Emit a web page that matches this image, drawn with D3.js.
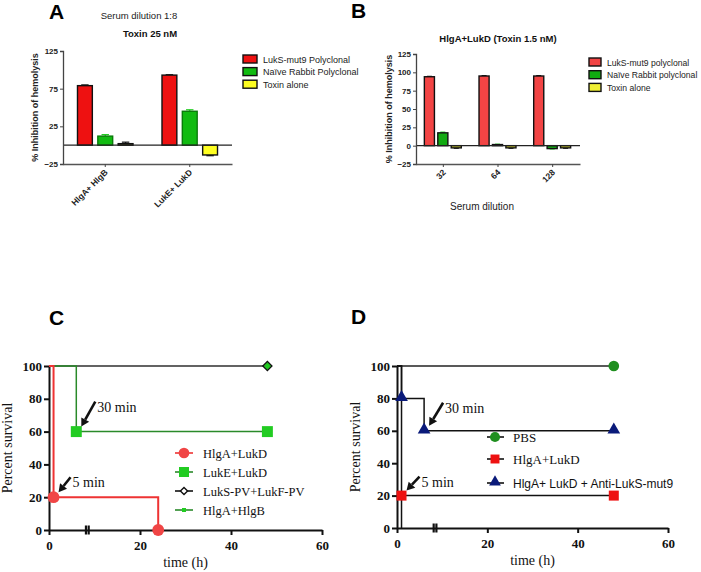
<!DOCTYPE html>
<html><head><meta charset="utf-8">
<script src="https://cdn.jsdelivr.net/npm/d3@7"></script>
<style>body{margin:0;background:#fff}svg{display:block}</style>
</head><body>
<script>
// ---------- DATA ----------
// Panel A
const aCategories = ["HlgA+ HlgB", "LukE+ LukD"];
const aSeries = ["LukS-mut9 Polyclonal", "Naïve Rabbit Polyclonal", "Toxin alone"];
const aValues = [[79, 12, 2], [93, 45, -13]];
const aErrors = [[1, 2, 2], [0.5, 2, 1]];
const aTicks = [-25, 25, 75, 125];
// Panel B
const bCategories = ["32", "64", "128"];
const bSeries = ["LukS-mut9 polyclonal", "Naïve Rabbit polyclonal", "Toxin alone"];
const bValues = [[94, 17.5, -3], [95, 1.5, -3], [95, -4, -3]];
const bErrors = [[0.5, 1, 0.5], [0.5, 0.5, 0.5], [0.5, 0.5, 0.5]];
const bTicks = [-25, 0, 25, 50, 75, 100, 125];
// Panel C survival (time h, percent)
const cHlgALukD = [[0, 100], [1, 20], [24, 0]];
const cHlgALukDMarks = [[1, 20], [24, 0]];
const cLukELukD = [[0, 100], [6, 60], [48, 60]];
const cLukELukDMarks = [[6, 60], [48, 60]];
const cLukSPV = [[0, 100], [48, 100]];
const cHlgAHlgB = [[0, 100], [48, 100]];
const cLegend = ["HlgA+LukD", "LukE+LukD", "LukS-PV+LukF-PV", "HlgA+HlgB"];
// Panel D survival
const dPBS = [[0, 100], [48, 100]];
const dPBSMarks = [[48, 100]];
const dHlgALukD = [[0, 100], [1, 20], [48, 20]];
const dHlgALukDMarks = [[1, 20], [48, 20]];
const dAnti = [[0, 100], [1, 80], [6, 60], [48, 60]];
const dAntiMarks = [[1, 80], [6, 60], [48, 60]];
const dLegend = ["PBS", "HlgA+LukD", "HlgA+ LukD + Anti-LukS-mut9"];
const survTicksY = [0, 20, 40, 60, 80, 100];
const survTicksX = [0, 20, 40, 60];

// ---------- SVG ----------
const svg = d3.select("body").append("svg").attr("width", 701).attr("height", 572);
const SANS = "Arial, 'Liberation Sans', sans-serif";
const SERIF = "'Times New Roman', 'Liberation Serif', serif";

function panelLetter(t, x, y) {
  svg.append("text").attr("x", x).attr("y", y).text(t)
    .attr("font-family", SANS).attr("font-weight", "bold").attr("font-size", 21);
}

// ---------- Bar panel helper ----------
function barPanel(o) {
  const g = svg.append("g");
  const y = d3.scaleLinear().domain([-25, 125]).range([o.bottom, o.top]);
  const x0 = d3.scaleBand().domain(o.cats).range([o.left, o.right]).padding(0);
  const x1 = d3.scaleBand().domain(o.series).range([o.inL, x0.bandwidth() - o.inR]).padding(o.inPad);
  o.cats.forEach((c, i) => {
    o.series.forEach((s, j) => {
      const v = o.values[i][j], e = o.errors[i][j];
      const bx = x0(c) + x1(s), bw = x1.bandwidth();
      const ey = v >= 0 ? y(v + e) : y(v - e);
      g.append("line").attr("x1", bx + bw / 2).attr("x2", bx + bw / 2)
        .attr("y1", y(v)).attr("y2", ey).attr("stroke", o.errCol[j]).attr("stroke-width", 1.2);
      g.append("line").attr("x1", bx + bw * 0.25).attr("x2", bx + bw * 0.75)
        .attr("y1", ey).attr("y2", ey).attr("stroke", o.errCol[j]).attr("stroke-width", 1.2);
      g.append("rect").attr("x", bx).attr("width", bw)
        .attr("y", Math.min(y(v), y(0))).attr("height", Math.abs(y(v) - y(0)))
        .attr("fill", o.colors[j]).attr("stroke", o.strokes[j]).attr("stroke-width", 1.4);
    });
  });
  g.append("line").attr("x1", o.left).attr("x2", o.right).attr("y1", y(0)).attr("y2", y(0))
    .attr("stroke", "#222").attr("stroke-width", 1.3);
  const ya = g.append("g").attr("transform", `translate(${o.left},0)`)
    .call(d3.axisLeft(y).tickValues(o.ticks).tickSize(3).tickPadding(2));
  ya.select(".domain").attr("stroke", "#444").attr("stroke-width", 1.3);
  ya.selectAll(".tick line").attr("stroke", "#444");
  ya.selectAll("text").attr("font-family", SANS).attr("font-weight", "bold").attr("font-size", 8).attr("fill", "#222");
  const xa = g.append("g").attr("transform", `translate(0,${o.bottom})`)
    .call(d3.axisBottom(x0).tickSize(3).tickSizeOuter(0).tickFormat(() => ""));
  xa.select(".domain").attr("stroke", "#555").attr("stroke-width", 1.6);
  xa.selectAll(".tick line").attr("stroke", "#444");
  o.cats.forEach(c => {
    const cx = x0(c) + x0.bandwidth() / 2;
    g.append("text").attr("text-anchor", "end")
      .attr("transform", `translate(${cx + 3},${o.bottom + 9}) rotate(-45)`)
      .attr("font-family", SANS).attr("font-weight", "bold").attr("font-size", 8.5).attr("fill", "#222")
      .text(c);
  });
  g.append("text").attr("text-anchor", "middle")
    .attr("transform", `translate(${o.ylx},${(o.top + o.bottom) / 2}) rotate(-90)`)
    .attr("font-family", SANS).attr("font-weight", "bold").attr("font-size", 9).attr("fill", "#222")
    .text("% Inhibition of hemolysis");
  o.series.forEach((s, j) => {
    const ly = o.legY + j * o.legDy;
    g.append("rect").attr("x", o.legX).attr("y", ly - 4).attr("width", o.legW).attr("height", 8)
      .attr("fill", o.colors[j]).attr("stroke", "#111").attr("stroke-width", 1.4);
    g.append("text").attr("x", o.legX + o.legW + 6).attr("y", ly + 3.5)
      .attr("font-family", SANS).attr("font-size", o.legFont).attr("fill", "#222").text(s);
  });
  return { g, x0, y };
}

// Panel A
panelLetter("A", 49, 19);
svg.append("text").attr("x", 139).attr("y", 19).attr("text-anchor", "middle")
  .attr("font-family", SANS).attr("font-size", 9.5).attr("fill", "#222").text("Serum dilution 1:8");
svg.append("text").attr("x", 150).attr("y", 37).attr("text-anchor", "middle")
  .attr("font-family", SANS).attr("font-weight", "bold").attr("font-size", 9.5).attr("fill", "#111").text("Toxin 25 nM");
barPanel({
  cats: aCategories, series: aSeries, values: aValues, errors: aErrors, ticks: aTicks,
  left: 63, right: 232, top: 51, bottom: 164, inL: 9, inR: 9, inPad: 0.27,
  colors: ["#ee1111", "#11bb11", "#ffff22"], strokes: ["#111", "#0a7a0a", "#111"],
  errCol: ["#111", "#22cc22", "#111"],
  ylx: 38, legX: 243, legY: 59, legDy: 12.6, legW: 14, legFont: 9
});

// Panel B
panelLetter("B", 351, 18);
svg.append("text").attr("x", 498).attr("y", 42).attr("text-anchor", "middle")
  .attr("font-family", SANS).attr("font-weight", "bold").attr("font-size", 9.5).attr("fill", "#111")
  .text("HlgA+LukD (Toxin 1.5 nM)");
barPanel({
  cats: bCategories, series: bSeries, values: bValues, errors: bErrors, ticks: bTicks,
  left: 416, right: 580, top: 54, bottom: 164, inL: 5, inR: 6, inPad: 0.25,
  colors: ["#f24444", "#11aa11", "#eeee33"], strokes: ["#111", "#111", "#111"],
  errCol: ["#111", "#33dd33", "#111"],
  ylx: 392, legX: 589, legY: 62, legDy: 12.7, legW: 12, legFont: 8.6
});
svg.append("text").attr("x", 482).attr("y", 210).attr("text-anchor", "middle")
  .attr("font-family", SANS).attr("font-size", 10).attr("fill", "#222").text("Serum dilution");

// ---------- Survival panels ----------
function survAxes(x, y) {
  const g = svg.append("g");
  const ya = g.append("g").attr("transform", `translate(${x(0)},0)`)
    .call(d3.axisLeft(y).tickValues(survTicksY).tickSize(5).tickSizeOuter(0).tickPadding(2));
  const xa = g.append("g").attr("transform", `translate(0,${y(0)})`)
    .call(d3.axisBottom(x).tickValues(survTicksX).tickSize(5).tickSizeOuter(0).tickPadding(6));
  [ya, xa].forEach(a => {
    a.select(".domain").attr("stroke", "#111").attr("stroke-width", 2);
    a.selectAll(".tick line").attr("stroke", "#111").attr("stroke-width", 2);
    a.selectAll("text").attr("font-family", SERIF).attr("font-weight", "bold").attr("font-size", 13).attr("fill", "#111");
  });
  [8.1, 8.7].forEach(t => {
    g.append("rect").attr("x", x(t) - 1).attr("y", y(0) - 4.5).attr("width", 2.2).attr("height", 9).attr("fill", "#111");
  });
  g.append("text").attr("text-anchor", "middle").attr("x", (x(0) + x(60)) / 2).attr("y", y(0) + 37)
    .attr("font-family", SERIF).attr("font-size", 14).attr("fill", "#111").text("time (h)");
  g.append("text").attr("text-anchor", "middle")
    .attr("transform", `translate(${x(0) - 37},${y(50)}) rotate(-90)`)
    .attr("font-family", SERIF).attr("font-size", 14).attr("fill", "#111").text("Percent survival");
  return g;
}
function stepLine(x, y, data, color, w) {
  svg.append("path").datum(data)
    .attr("d", d3.line().x(d => x(d[0])).y(d => y(d[1])).curve(d3.curveStepAfter))
    .attr("fill", "none").attr("stroke", color).attr("stroke-width", w);
}
function marker(type, cx, cy, size, fill, stroke, sw, rot) {
  svg.append("path").attr("d", d3.symbol().type(type).size(size)())
    .attr("transform", `translate(${cx},${cy}) rotate(${rot || 0})`).attr("fill", fill)
    .attr("stroke", stroke || "none").attr("stroke-width", sw || 0);
}
function arrow(x1, y1, x2, y2) {
  const a = Math.atan2(y2 - y1, x2 - x1), L = 8, W = 4.5;
  const bx = x2 - L * Math.cos(a), by = y2 - L * Math.sin(a);
  svg.append("line").attr("x1", x1).attr("y1", y1).attr("x2", bx).attr("y2", by)
    .attr("stroke", "#111").attr("stroke-width", 2.6);
  svg.append("path").attr("d",
    `M${x2},${y2}L${bx + W * Math.sin(a)},${by - W * Math.cos(a)}L${bx - W * Math.sin(a)},${by + W * Math.cos(a)}Z`)
    .attr("fill", "#111");
}
function annot(x, y, t, tx, ty, label) {
  arrow(x(t[0]) + tx, y(t[1]) - ty, x(t[0]) + 5, y(t[1]) - 5);
  svg.append("text").attr("x", x(t[0]) + tx + 2).attr("y", y(t[1]) - ty + 10)
    .attr("font-family", SERIF).attr("font-size", 14).attr("fill", "#111").text(label);
}

// Panel C
panelLetter("C", 49, 325);
const xC = d3.scaleLinear().domain([0, 60]).range([49, 322]);
const yC = d3.scaleLinear().domain([0, 100]).range([530, 366]);
survAxes(xC, yC);
stepLine(xC, yC, cLukSPV, "#444", 1.3);
stepLine(xC, yC, cHlgAHlgB, "#555", 1.0);
stepLine(xC, yC, cLukELukD, "#2a8a2a", 1.5);
stepLine(xC, yC, cHlgALukD, "#ee3333", 2);
cHlgALukDMarks.forEach(d => marker(d3.symbolCircle, xC(d[0]), yC(d[1]), 110, "#f04545"));
cLukELukDMarks.forEach(d => marker(d3.symbolSquare, xC(d[0]), yC(d[1]), 120, "#22cc22"));
marker(d3.symbolSquare, xC(cLukSPV[1][0]), yC(cLukSPV[1][1]), 42, "#22bb22", "#111", 1.3, 45);
marker(d3.symbolSquare, xC(cHlgAHlgB[1][0]), yC(cHlgAHlgB[1][1]), 12, "#22cc22");
annot(xC, yC, [6, 60], 19, 30, "30 min");
annot(xC, yC, [1, 20], 17, 20, "5 min");
const cLegY = [453, 472, 491, 510];
cLegend.forEach((s, i) => {
  const ly = cLegY[i];
  const col = ["#ee3333", "#2a8a2a", "#111", "#2a8a2a"][i];
  svg.append("line").attr("x1", 175).attr("x2", 193).attr("y1", ly).attr("y2", ly)
    .attr("stroke", col).attr("stroke-width", 1.6);
  if (i === 0) marker(d3.symbolCircle, 184, ly, 90, "#f04545");
  if (i === 1) marker(d3.symbolSquare, 184, ly, 100, "#22cc22");
  if (i === 2) marker(d3.symbolSquare, 184, ly, 26, "#fff", "#111", 1.4, 45);
  if (i === 3) marker(d3.symbolSquare, 184, ly, 16, "#22cc22");
  svg.append("text").attr("x", 203).attr("y", ly + 4.5)
    .attr("font-family", SERIF).attr("font-size", 12.5).attr("fill", "#111").text(s);
});

// Panel D
panelLetter("D", 351, 324);
const xD = d3.scaleLinear().domain([0, 60]).range([397, 668]);
const yD = d3.scaleLinear().domain([0, 100]).range([528, 366]);
survAxes(xD, yD);
stepLine(xD, yD, dPBS, "#222", 1.3);
stepLine(xD, yD, dAnti, "#111", 1.5);
stepLine(xD, yD, dHlgALukD, "#111", 1.5);
svg.append("line").attr("x1", xD(1)).attr("x2", xD(1)).attr("y1", yD(20)).attr("y2", yD(0))
  .attr("stroke", "#111").attr("stroke-width", 1.5);
dPBSMarks.forEach(d => marker(d3.symbolCircle, xD(d[0]), yD(d[1]), 90, "#1f8f1f"));
dHlgALukDMarks.forEach(d => marker(d3.symbolSquare, xD(d[0]), yD(d[1]), 100, "#ee1111"));
dAntiMarks.forEach(d => marker(d3.symbolTriangle, xD(d[0]), yD(d[1]) - 1, 70, "#0a1a7a"));
annot(xD, yD, [6, 60], 19, 28, "30 min");
annot(xD, yD, [1, 20], 18, 19, "5 min");
const dLegY = [437, 459, 483];
dLegend.forEach((s, i) => {
  const ly = dLegY[i];
  svg.append("line").attr("x1", 487).attr("x2", 504).attr("y1", ly).attr("y2", ly)
    .attr("stroke", "#111").attr("stroke-width", 1.6);
  if (i === 0) marker(d3.symbolCircle, 495, ly, 80, "#1f8f1f");
  if (i === 1) marker(d3.symbolSquare, 495, ly, 80, "#ee1111");
  if (i === 2) marker(d3.symbolTriangle, 495, ly - 1, 60, "#0a1a7a");
  svg.append("text").attr("x", 513).attr("y", ly + 4.5)
    .attr("font-family", i === 2 ? SANS : SERIF).attr("font-size", i === 2 ? 12 : 13)
    .attr("fill", "#111").text(s);
});
</script>
</body></html>
